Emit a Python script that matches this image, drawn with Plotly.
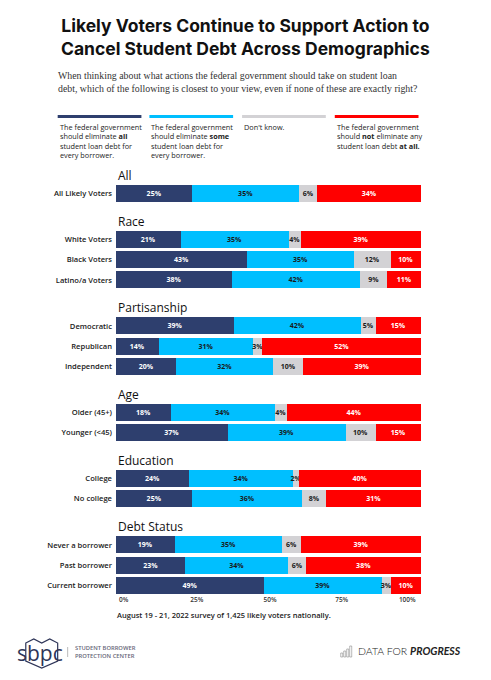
import plotly.graph_objects as go

# ---------------- data ----------------
GROUPS = ["All", "Race", "Partisanship", "Age", "Education", "Debt Status"]
GROUP_ROWS = [
    ["All Likely Voters"],
    ["White Voters", "Black Voters", "Latino/a Voters"],
    ["Democratic", "Republican", "Independent"],
    ["Older (45+)", "Younger (<45)"],
    ["College", "No college"],
    ["Never a borrower", "Past borrower", "Current borrower"],
]
ELIM_ALL  = [25, 21, 43, 38, 39, 14, 20, 18, 37, 24, 25, 19, 23, 49]
ELIM_SOME = [35, 35, 35, 42, 42, 31, 32, 34, 39, 34, 36, 35, 34, 39]
DONT_KNOW = [6, 4, 12, 9, 5, 3, 10, 4, 10, 2, 8, 6, 6, 3]
NOT_ELIM  = [34, 39, 10, 11, 15, 52, 39, 44, 15, 40, 31, 39, 38, 10]

SERIES_NAMES = [
    "The federal government should eliminate all student loan debt for every borrower.",
    "The federal government should eliminate some student loan debt for every borrower.",
    "Don't know.",
    "The federal government should not eliminate any student loan debt at all.",
]
LEGEND_TEXT = [
    "The federal government<br>should eliminate <b>all</b><br>student loan debt for<br>every borrower.",
    "The federal government<br>should eliminate <b>some</b><br>student loan debt for<br>every borrower.",
    "Don't know.",
    "The federal government<br>should <b>not</b> eliminate any<br>student loan debt <b>at all.</b>",
]
COLORS = ["#2E3F6E", "#00BFFF", "#D3D2D5", "#FF0000"]
TEXT_COLORS = ["#FFFFFF", "#1A1A1A", "#1A1A1A", "#FFFFFF"]

TICK_LABELS = ["0%", "25%", "50%", "75%", "100%"]
TICK_POS = [2.5, 26.5, 50.5, 74, 95.5]

TITLE = "Likely Voters Continue to Support Action to<br>Cancel Student Debt Across Demographics"
SUBTITLE = ("When thinking about what actions the federal government should take on student loan<br>"
            "debt, which of the following is closest to your view, even if none of these are exactly right?")
SOURCE = "August 19 - 21, 2022 survey of 1,425 likely voters nationally."

# ---------------- layout geometry (page pixel coordinates) ----------------
OFF = 8  # browser body margin
PAGE_W, PAGE_H = 491, 680
W, H = PAGE_W - OFF, PAGE_H - OFF
L_PX, R_PX = 115.5, 421.5
T_PX, B_PX = 163.0, 594.0
GAP_EXTRA = 1.274

row_names, row_pos, header_pos = [], [], []
p = 0.0
for gi, rows in enumerate(GROUP_ROWS):
    if gi > 0:
        p += GAP_EXTRA
    header_pos.append(p - 0.9)
    for r in rows:
        row_names.append(r)
        row_pos.append(p)
        p += 1.0
y_range = [row_pos[-1] + 0.43, -1.5]


def px(x):
    return (x - L_PX) / (R_PX - L_PX)


def py(y):
    return (B_PX - y) / (B_PX - T_PX)


FONT = "Open Sans"

fig = go.Figure()
for vals, name, col, tcol in zip([ELIM_ALL, ELIM_SOME, DONT_KNOW, NOT_ELIM], SERIES_NAMES, COLORS, TEXT_COLORS):
    fig.add_trace(go.Bar(
        y=row_pos, x=vals, orientation="h", name=name,
        marker=dict(color=col, line=dict(width=0)),
        width=0.84,
        text=[f"{v}%" for v in vals],
        textposition="inside", insidetextanchor="middle", textangle=0,
        textfont=dict(family=FONT, size=7, color=tcol, weight=700),
        constraintext="none",
        hoverinfo="skip",
    ))

fig.update_layout(
    width=W, height=H,
    margin=dict(l=L_PX - OFF, r=PAGE_W - R_PX, t=T_PX - OFF, b=PAGE_H - B_PX, pad=0, autoexpand=False),
    barmode="stack", barnorm="percent",
    showlegend=False,
    plot_bgcolor="white", paper_bgcolor="white",
    uniformtext=dict(mode="show", minsize=7),
    font=dict(family=FONT, color="#222222"),
    xaxis=dict(range=[0, 100], showgrid=False, zeroline=False, showline=False,
               tickvals=TICK_POS, ticktext=TICK_LABELS, ticks="",
               tickfont=dict(family=FONT, size=6.5, color="#333333", weight=600)),
    yaxis=dict(range=y_range, showgrid=False, zeroline=False, showline=False,
               tickvals=row_pos, ticktext=row_names, ticks="",
               ticklabelstandoff=3,
               tickfont=dict(family=FONT, size=7.6, color="#1A1A1A", weight=600)),
)

ann = []
# title
ann.append(dict(text=TITLE, x=px(245.5), y=py(13), xref="paper", yref="paper",
                xanchor="center", yanchor="top", showarrow=False, align="center",
                font=dict(family="Inter", size=17.5, color="#111111", weight=700)))
# subtitle
ann.append(dict(text=SUBTITLE, x=px(55), y=py(68), xref="paper", yref="paper",
                xanchor="left", yanchor="top", showarrow=False, align="left",
                font=dict(family="Liberation Serif", size=9.85, color="#333333")))
# group headers
for g, hp in zip(GROUPS, header_pos):
    ann.append(dict(text=g, x=0, y=hp, xref="paper", yref="y", xanchor="left", yanchor="middle",
                    showarrow=False,
                    font=dict(family=FONT, size=12, color="#111111", weight=500)))
# legend
leg_x = [57, 149, 242, 335]
shapes = []
for lx, col, txt in zip(leg_x, COLORS, LEGEND_TEXT):
    shapes.append(dict(type="line", xref="paper", yref="paper",
                       x0=px(lx), x1=px(lx + 84), y0=py(116.5), y1=py(116.5),
                       line=dict(color=col, width=3)))
    ann.append(dict(text=txt, x=px(lx), y=py(120), xref="paper", yref="paper",
                    xanchor="left", yanchor="top", showarrow=False, align="left",
                    font=dict(family=FONT, size=7.3, color="#222222", weight=500)))
# source
ann.append(dict(text=SOURCE, x=px(114.5), y=py(615), xref="paper", yref="paper",
                xanchor="left", yanchor="middle", showarrow=False,
                font=dict(family=FONT, size=7.5, color="#222222", weight=600)))
# SBPC logo
ann.append(dict(text="sbpc", x=px(14), y=py(653), xref="paper", yref="paper",
                xanchor="left", yanchor="middle", showarrow=False,
                font=dict(family=FONT, size=21, color="#2E3558", weight=500)))
book = [(25, 643), (33, 639), (41, 643), (49, 639), (57, 643), (57, 661), (41, 668), (25, 661)]
path = "M " + " L ".join(f"{px(a):.4f},{py(b):.4f}" for a, b in book) + " Z"
shapes.append(dict(type="path", xref="paper", yref="paper", path=path,
                   line=dict(color="#2E3558", width=1.2), fillcolor="rgba(0,0,0,0)"))
shapes.append(dict(type="line", xref="paper", yref="paper", x0=px(67), x1=px(67),
                   y0=py(647), y1=py(657), line=dict(color="#BBBBBB", width=1)))
ann.append(dict(text="STUDENT BORROWER<br>PROTECTION CENTER", x=px(72), y=py(652), xref="paper", yref="paper",
                xanchor="left", yanchor="middle", showarrow=False, align="left",
                font=dict(family=FONT, size=5.8, color="#666677", weight=600)))
# Data for Progress logo
for bx, bh in zip([341, 344, 347, 350], [4, 6, 8, 11]):
    shapes.append(dict(type="rect", xref="paper", yref="paper",
                       x0=px(bx), x1=px(bx + 2), y0=py(657), y1=py(657 - bh),
                       line=dict(color="#888888", width=0.6), fillcolor="white"))
ann.append(dict(text="DATA FOR <b><i>PROGRESS</i></b>", x=px(356), y=py(651), xref="paper", yref="paper",
                xanchor="left", yanchor="middle", showarrow=False,
                font=dict(family="Lato", size=10.5, color="#222222", weight=300)))

fig.update_layout(annotations=ann, shapes=shapes)
fig.write_html("out.html")
